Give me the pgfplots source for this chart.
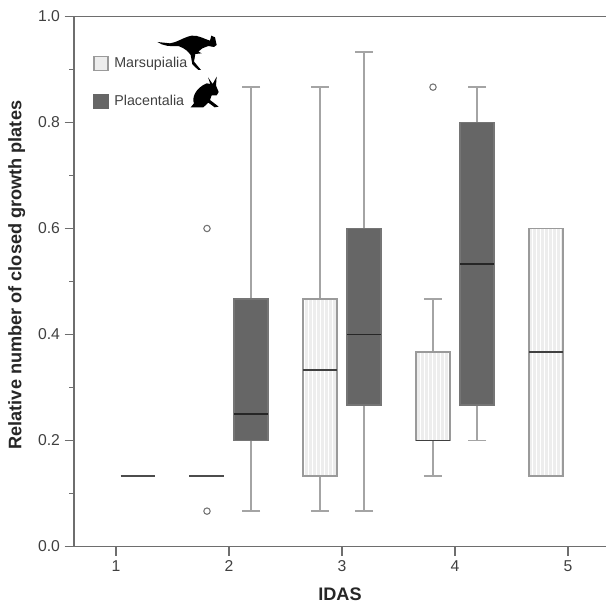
\documentclass[border=0pt]{standalone}
\usepackage{pgfplots}
\usepackage{fontspec}
\setmainfont{Liberation Sans}
\pgfplotsset{compat=1.18}
\usepgfplotslibrary{statistics}
\usetikzlibrary{patterns}
\definecolor{ax}{HTML}{6E6E6E}
\definecolor{dk}{HTML}{666666}
\definecolor{lt}{HTML}{EDEDED}
\definecolor{ed}{HTML}{9A9A9A}
\definecolor{wh}{HTML}{A4A4A4}
\pgfplotsset{
  mbox/.style={solid,draw=ed,line width=1pt,fill=lt,boxplot/every median/.style={draw=black!75,line width=1.3pt},
     boxplot/every whisker/.style={draw=wh,line width=1pt},
     boxplot/every box/.style={draw=ed,fill=lt,line width=1pt,postaction={pattern=vertical lines,pattern color=white}}},
  pbox/.style={solid,draw=dk,line width=1pt,fill=dk,boxplot/every median/.style={draw=black!85,line width=1.3pt},
     boxplot/every whisker/.style={draw=wh,line width=1pt},
     boxplot/every box/.style={draw=dk!90,fill=dk,line width=1pt}},
  sq/.style={legend image code/.code={\draw[##1] (0pt,-5.2pt) rectangle (10.5pt,5.2pt);}},
}
\begin{document}
\begin{tikzpicture}[x=0.75pt,y=0.75pt]
\useasboundingbox (-74,-58.5) rectangle (532,546.5);
\begin{axis}[
  at={(0,0)},anchor=origin,
  scale only axis,width=399pt,height=397.5pt,
  xmin=0.628,xmax=5.336,ymin=0,ymax=1,
  clip=false,
  xtick={1,2,3,4,5},
  ytick={0,0.2,0.4,0.6,0.8,1},
  minor ytick={0.1,0.3,0.5,0.7,0.9},
  yticklabel style={/pgf/number format/fixed,/pgf/number format/fixed zerofill,/pgf/number format/precision=1},
  /pgf/number format/assume math mode=true,
  axis x line*=bottom,axis y line*=left,
  axis line style={draw=ax,line width=1.3pt,-},
  tick style={draw=ax,line width=1pt},
  major tick length=7pt,minor tick length=3.5pt,
  tick align=outside,
  ticklabel style={font=\fontsize{11.8}{13}\selectfont,text=black!75},
  xlabel={\textbf{IDAS}},
  ylabel={\textbf{Relative number of closed growth plates}},
  label style={font=\fontsize{13.6}{15}\selectfont,text=black!85},
  xlabel style={at={(axis description cs:0.5,-0.082)},anchor=north,yshift=5.3pt},
  ylabel style={at={(axis description cs:-0.118,0.512)},anchor=south,yshift=-14pt},
  legend style={at={(rel axis cs:0.036,0.928)},anchor=north west,draw=none,fill=none,
    font=\fontsize{10.7}{12}\selectfont,row sep=15.3pt,inner sep=0pt,
    /tikz/every even column/.append style={column sep=4pt},text=black!75},
  legend cell align=left,
  boxplot/draw direction=y,
]
\addplot[fill=lt,draw=ed,line width=1pt,sq] coordinates {(0.628,0)};
\addlegendentry{\hspace{2.2pt}Marsupialia}
\addplot[fill=dk,draw=dk,line width=1pt,sq] coordinates {(0.628,0)};
\addlegendentry{\hspace{2.2pt}Placentalia}
% Top frame line
\addplot[draw=ax,line width=1.3pt,forget plot] coordinates {(0.628,1)(5.336,1)};
% Marsupialia
\addplot[mbox,forget plot,boxplot prepared={draw position=3-0.195,lower whisker=0.0667,lower quartile=0.1333,median=0.3333,upper quartile=0.4667,upper whisker=0.8667,box extend=0.3,whisker extend=0.16}] coordinates {};
\addplot[mbox,forget plot,boxplot prepared={draw position=4-0.195,lower whisker=0.1333,lower quartile=0.2,median=0.2,upper quartile=0.3667,upper whisker=0.4667,box extend=0.3,whisker extend=0.16}] coordinates {};
\addplot[mbox,forget plot,boxplot prepared={draw position=5-0.195,lower whisker=0.1333,lower quartile=0.1333,median=0.3667,upper quartile=0.6,upper whisker=0.6,box extend=0.3,whisker extend=0.16}] coordinates {};
% Placentalia
\addplot[pbox,forget plot,boxplot prepared={draw position=2+0.195,lower whisker=0.0667,lower quartile=0.2,median=0.25,upper quartile=0.4667,upper whisker=0.8667,box extend=0.3,whisker extend=0.16}] coordinates {};
\addplot[pbox,forget plot,boxplot prepared={draw position=3+0.195,lower whisker=0.0667,lower quartile=0.2667,median=0.4,upper quartile=0.6,upper whisker=0.9333,box extend=0.3,whisker extend=0.16}] coordinates {};
\addplot[pbox,forget plot,boxplot prepared={draw position=4+0.195,lower whisker=0.2,lower quartile=0.2667,median=0.5333,upper quartile=0.8,upper whisker=0.8667,box extend=0.3,whisker extend=0.16}] coordinates {};
% Degenerate boxes (lines only)
\addplot[draw=black!70,line width=1.2pt,forget plot] coordinates {(1.04,0.1333)(1.345,0.1333)};
\addplot[draw=black!70,line width=1.2pt,forget plot] coordinates {(1.65,0.1333)(1.955,0.1333)};
% Outliers
\addplot[only marks,mark=o,mark size=2.4pt,mark options={draw=black!55,line width=0.8pt,fill=white},forget plot] coordinates {(1.805,0.6)(1.805,0.0667)(3.805,0.8667)};
\end{axis}
% Silhouettes (decorative)
\begin{scope}[shift={(-4,526.5)},x=0.25pt,y=-0.25pt]
\fill[black] (262,66) -- (300,70) .. controls (320,68) and (340,52) .. (365,47)
  .. controls (385,45) and (405,58) .. (420,62) -- (424,47) -- (435,52) -- (440,75) -- (432,81) -- (415,78)
  -- (397,85) -- (385,95) -- (395,100) -- (376,102) -- (372,125) -- (393,150) -- (385,150) -- (367,133)
  -- (362,105) .. controls (355,95) and (345,85) .. (325,78) .. controls (300,80) and (280,78) .. cycle;
\fill[black] (362,262) -- (372,250) .. controls (365,235) and (375,205) .. (410,190) -- (421,192)
  -- (414,172) -- (428,192) -- (440,170) -- (438,197) -- (446,216) -- (440,226) -- (425,226) -- (420,240)
  -- (446,260) -- (434,262) -- (415,248) -- (400,262) -- cycle;
\end{scope}
\end{tikzpicture}
\end{document}
